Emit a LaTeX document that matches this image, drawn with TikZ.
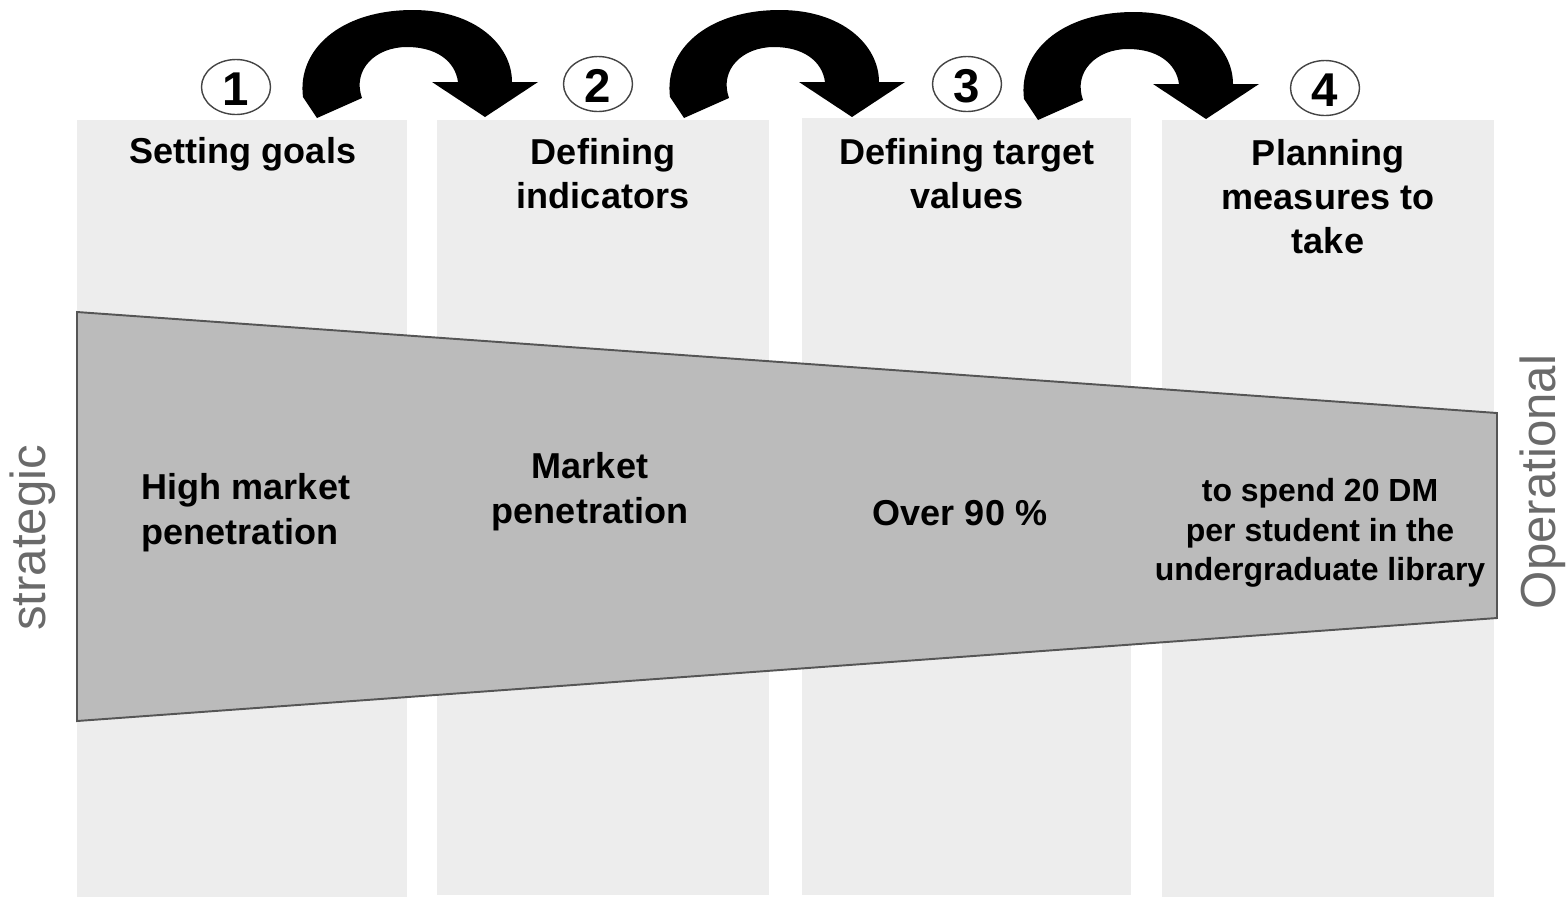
\documentclass[tikz,border=0pt]{standalone}
\usepackage{fontspec}
\setmainfont{Liberation Sans}
\definecolor{colbg}{HTML}{EDEDED}
\definecolor{trapfill}{HTML}{BBBBBB}
\definecolor{trapline}{HTML}{555555}
\definecolor{sidegray}{HTML}{6A6A6A}
\definecolor{ringgray}{HTML}{444444}
\begin{document}
\begin{tikzpicture}[x=0.02cm,y=-0.02cm,
  column/.style={fill=colbg,draw=none},
  head/.style={font=\fontsize{20.5pt}{25pt}\selectfont\bfseries,align=center,inner sep=0pt},
  inner/.style={font=\fontsize{20.5pt}{25.5pt}\selectfont\bfseries,align=center,inner sep=0pt},
  small/.style={font=\fontsize{18.2pt}{22.5pt}\selectfont\bfseries,align=center,inner sep=0pt},
  side/.style={font=\fontsize{28pt}{32pt}\selectfont,text=sidegray,rotate=90,inner sep=0pt},
  numtext/.style={font=\fontsize{27pt}{30pt}\selectfont\bfseries,inner sep=0pt},
  ring/.style={draw=ringgray,line width=0.8pt,fill=white},
  bigarrow/.style={fill=black,draw=none}
]
\useasboundingbox (0,0) rectangle (1567,897);
% columns
\fill[column] (77,120) rectangle (407,897);
\fill[column] (437,120) rectangle (769,895);
\fill[column] (802,118) rectangle (1131,895);
\fill[column] (1162,120) rectangle (1494,897);
% trapezoid
\draw[fill=trapfill,draw=trapline,line width=1.1pt]
  (77,312) -- (1497,413) -- (1497,618) -- (77,721) -- cycle;
% numbered ellipses
\foreach \n/\cx/\cy in {1/236/87, 2/598/84, 3/967/84, 4/1325/88}{
  \draw[ring] (\cx,\cy) ellipse [x radius=34.5, y radius=27.5];
  \node[numtext] (n\n) at (\cx,\cy+2) {\n};
}
% curved arrows
\foreach \dx/\dy in {0/0, 367/0, 721/2}{
  \fill[bigarrow,shift={(\dx,\dy)}]
    (317,118) -- (303,97) .. controls (297,50) and (340,10) .. (413,10)
    .. controls (475,10) and (512,45) .. (512,82) -- (538,82) -- (485,117) -- (432,82) -- (458,82)
    .. controls (455,60) and (435,47) .. (407,47)
    .. controls (375,47) and (352,70) .. (362,98) -- cycle;
}
% headers
\node[head] (h1) at (243,154) {Setting goals};
\node[head] (h2) at (603,174) {Defining\\indicators};
\node[head] (h3) at (967,174) {Defining target\\values};
\node[head] (h4) at (1328,197) {Planning\\measures to\\take};
% inner texts
\node[inner,align=left] (t1) at (246,513) {High market\\penetration};
\node[inner] (t2) at (590,492) {Market\\penetration};
\node[inner] (t3) at (960,513) {Over 90 \%};
\node[small] (t4) at (1320,533) {to spend 20 DM\\per student in the\\undergraduate library};
% side labels
\node[side] (s1) at (33,538) {strategic};
\node[side] (s2) at (1543,482) {Operational};
\end{tikzpicture}
\end{document}
